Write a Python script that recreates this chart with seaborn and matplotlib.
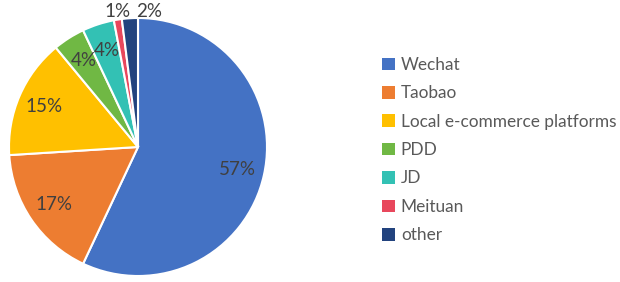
import numpy as np
import matplotlib
matplotlib.use("Agg")
import matplotlib.pyplot as plt
import seaborn as sns
from matplotlib.patches import Patch

categories = ["Wechat", "Taobao", "Local e-commerce platforms", "PDD", "JD", "Meituan", "other"]
values = [57, 17, 15, 4, 4, 1, 2]
colors = ["#4472C4", "#ED7D31", "#FFC000", "#70B844", "#33C1B4", "#E8475C", "#22437E"]

sns.set_theme(style="white")
plt.rcParams['font.family'] = ['Lato', 'DejaVu Sans']
label_color = "#404040"
text_color = "#595959"

fig = plt.figure(figsize=(6.2, 2.82), dpi=100)
W, H = 620, 282
cx, cy, r = 138, 147, 129
ax = fig.add_axes([(cx - r) / W, (H - cy - r) / H, 2 * r / W, 2 * r / H])

wedges, texts, autotexts = ax.pie(
    values, colors=colors, startangle=90, counterclock=False,
    autopct="%1.0f%%", pctdistance=0.79,
    wedgeprops=dict(edgecolor="white", linewidth=1.5),
    textprops=dict(color=label_color, fontsize=13.5),
)
small = [i for i, v in enumerate(values) if v < 3]
for k, i in enumerate(small):
    w, t = wedges[i], autotexts[i]
    ang = np.deg2rad((w.theta1 + w.theta2) / 2)
    x = 1.0 * np.cos(ang)
    if k == len(small) - 1:
        t.set_ha("left")
        x += 0.05
    t.set_position((x, 1.005))
    t.set_va("baseline")
ax.set_xlim(-1, 1)
ax.set_ylim(-1, 1)
ax.set_aspect("equal")

handles = [Patch(facecolor=c, edgecolor="none") for c in colors]
leg = fig.legend(handles, categories, loc="upper left",
                 bbox_to_anchor=(375 / W, 1 - 50 / H), frameon=False,
                 fontsize=12.4, handlelength=0.75, handleheight=0.75,
                 handletextpad=0.35, labelspacing=0.72, borderaxespad=0)
for t in leg.get_texts():
    t.set_color(text_color)

fig.savefig("out.png", dpi=100, facecolor="white")
